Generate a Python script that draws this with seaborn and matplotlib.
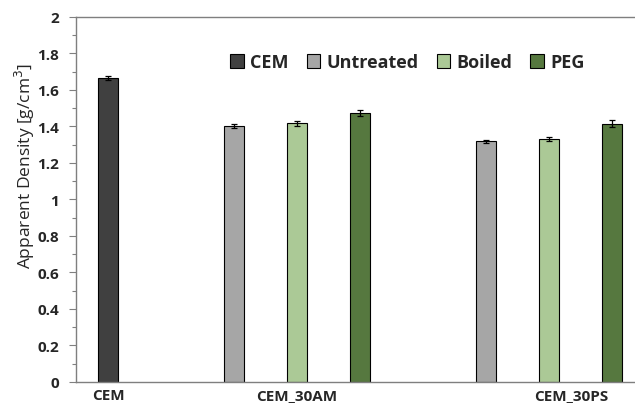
import matplotlib
matplotlib.use("Agg")
import matplotlib.pyplot as plt
from matplotlib.ticker import MultipleLocator
import pandas as pd
import seaborn as sns

# Apparent density of the plain cement and the two composites by fibre treatment
treatments = ["CEM", "Untreated", "Boiled", "PEG"]
bar_treatment = ["CEM", "Untreated", "Boiled", "PEG", "Untreated", "Boiled", "PEG"]
bar_position = [0, 2, 3, 4, 6, 7, 8]
density = [1.666, 1.401, 1.417, 1.474, 1.319, 1.332, 1.416]
density_err = [0.013, 0.012, 0.015, 0.016, 0.007, 0.010, 0.018]

group_labels = ["CEM", "CEM_30AM", "CEM_30PS"]
group_label_pos = [0, 3, 7.35]

colors = ["#404040", "#a6a6a6", "#a9d18e", "#548235"]

df = pd.DataFrame({"pos": bar_position, "density": density, "treatment": bar_treatment})

sns.set_style("white")
plt.rcParams["font.family"] = ["Open Sans", "DejaVu Sans"]

fig = plt.figure(figsize=(6.35, 4.06), dpi=100)
ax = fig.add_axes([0.1197, 0.0567, 0.8803, 0.899])

sns.barplot(data=df, x="pos", y="density", hue="treatment", hue_order=treatments,
            palette=colors, native_scale=True, dodge=False, width=0.32,
            edgecolor="black", linewidth=0.8, errorbar=None, ax=ax)

ax.errorbar(df["pos"], df["density"], yerr=density_err, fmt="none",
            ecolor="black", elinewidth=0.9, capsize=2.2, capthick=0.9)

ax.set_xlim(-0.508, 8.37)
ax.set_ylim(0, 2)
ax.yaxis.set_minor_locator(MultipleLocator(0.1))
ax.set_yticks([0, 0.2, 0.4, 0.6, 0.8, 1.0, 1.2, 1.4, 1.6, 1.8, 2.0])
ax.set_yticklabels(["0", "0.2", "0.4", "0.6", "0.8", "1", "1.2", "1.4", "1.6", "1.8", "2"],
                   fontweight="bold", fontsize=11)
ax.set_xticks(group_label_pos)
ax.set_xticklabels(group_labels, fontweight="bold", fontsize=11)
ax.tick_params(axis="y", which="major", direction="out", length=5, width=0.8,
               color="#808080", left=True, pad=7)
ax.tick_params(axis="y", which="minor", direction="out", length=3, width=0.8,
               color="#808080", left=True)
ax.tick_params(axis="x", length=0, pad=4)

ax.set_xlabel("")
ax.set_ylabel("Apparent Density [g/cm$^3$]", fontsize=12.5)
ax.yaxis.set_label_coords(-0.07, 0.595)

for side in ["left", "bottom", "top"]:
    ax.spines[side].set_visible(True)
    ax.spines[side].set_color("#7f7f7f")
    ax.spines[side].set_linewidth(1.0)
ax.spines["right"].set_visible(False)

handles, labels = ax.get_legend_handles_labels()
ax.legend(handles, labels, ncol=4, frameon=False, loc="upper left",
          bbox_to_anchor=(0.263, 0.92), prop={"weight": "bold", "size": 13},
          handlelength=0.75, handleheight=0.75, handletextpad=0.35,
          columnspacing=1.0, borderaxespad=0)

fig.savefig("out.png", dpi=100)
